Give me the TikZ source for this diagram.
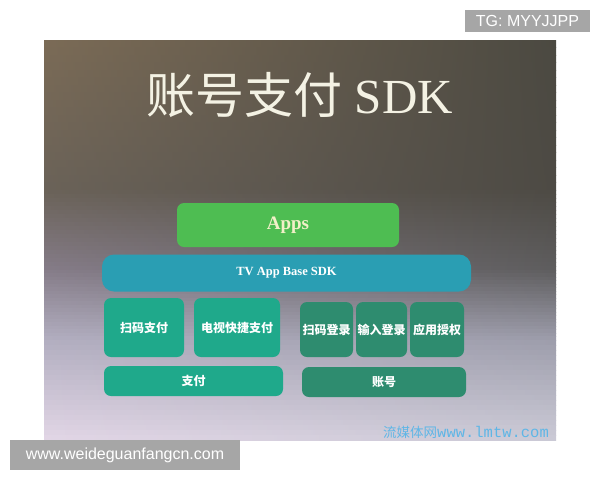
\documentclass[tikz,border=0pt]{standalone}
\usepackage{fontspec}
\setmainfont{Liberation Serif}
\setsansfont{Liberation Sans}
\setmonofont{Liberation Mono}
\newfontfamily\cjk{Noto Sans CJK SC}
% background key colours (left / right edge at several heights)
\definecolor{lA}{HTML}{7B6B56}\definecolor{rA}{HTML}{4B4941}
\definecolor{lB}{HTML}{6A6258}\definecolor{rB}{HTML}{4D4A44}
\definecolor{lC}{HTML}{857C88}\definecolor{rC}{HTML}{5E5D5E}
\definecolor{lD}{HTML}{B2AEC0}\definecolor{rD}{HTML}{9D9DAB}
\definecolor{lE}{HTML}{E2D6E6}\definecolor{rE}{HTML}{CBCAD6}
\definecolor{appsgreen}{HTML}{4EBD52}
\definecolor{appstext}{HTML}{F2F0C8}
\definecolor{tvblue}{HTML}{2A9EB3}
\definecolor{paygreen}{HTML}{1FA98B}
\definecolor{accgreen}{HTML}{2E8C6F}
\definecolor{wmblue}{HTML}{5FB6E6}
\definecolor{tagbg}{HTML}{A6A6A6}
\definecolor{titlecol}{HTML}{F4F2E4}
\newcommand\bgseg[6]{%
  \foreach \k in {0,...,19}{%
    \pgfmathsetmacro\pp{100-5*\k-2.5}%
    \pgfmathsetmacro\ya{#1+(#2-#1)*\k/20}%
    \pgfmathsetmacro\yb{#1+(#2-#1)*(\k+1)/20+0.4}%
    \colorlet{cl}{#3!\pp!#4}\colorlet{cr}{#5!\pp!#6}%
    \shade[left color=cl, right color=cr] (44,\ya) rectangle (556,\yb);
  }}
\tikzset{
  box/.style={rounded corners=7pt, inner sep=0pt, text=white, font=\cjk\bfseries\fontsize{12}{12}\selectfont},
  tag/.style={fill=tagbg, inner sep=0pt, text=white, font=\sffamily\fontsize{16}{16}\selectfont}
}
\begin{document}
\begin{tikzpicture}[x=1pt,y=-1pt]
\useasboundingbox (0,0) rectangle (600,480);
\fill[white] (0,0) rectangle (600,480);
% photo background
\begin{scope}
\clip (44,40) rectangle (556,440);
\bgseg{40}{190}{lA}{lB}{rA}{rB}
\bgseg{190}{270}{lB}{lC}{rB}{rC}
\bgseg{270}{340}{lC}{lD}{rC}{rD}
\bgseg{340}{440}{lD}{lE}{rD}{rE}
\end{scope}
% title
\node[anchor=base, text=titlecol, inner sep=0pt] (title) at (300,113)
  {{\cjk\fontsize{49}{49}\selectfont 账号支付}\hspace{12pt}{\fontsize{49}{49}\selectfont SDK}};
% apps and base sdk
\node[box, fill=appsgreen, minimum width=222pt, minimum height=44pt,
      text=appstext, font=\bfseries\fontsize{19}{19}\selectfont] (apps) at (288,225) {Apps};
\node[box, fill=tvblue, rounded corners=12pt, minimum width=369pt, minimum height=37pt,
      font=\bfseries\fontsize{12.5}{12.5}\selectfont] (tv) at (286.5,273) {TV App Base SDK};
% payment side
\node[box, fill=paygreen, minimum width=80pt, minimum height=59pt] (smzf) at (144,327.5) {扫码支付};
\node[box, fill=paygreen, minimum width=86pt, minimum height=59pt] (dskj) at (237,327.5) {电视快捷支付};
\node[box, fill=paygreen, minimum width=179pt, minimum height=30pt] (zf) at (193.5,381) {支付};
% account side
\node[box, fill=accgreen, minimum width=53pt, minimum height=55pt] (smdl) at (326.5,329.5) {扫码登录};
\node[box, fill=accgreen, minimum width=51pt, minimum height=55pt] (srdl) at (381.5,329.5) {输入登录};
\node[box, fill=accgreen, minimum width=54pt, minimum height=55pt] (yysq) at (437,329.5) {应用授权};
\node[box, fill=accgreen, minimum width=164pt, minimum height=30pt] (zh) at (384,382) {账号};
% watermark
\node[anchor=base west, inner sep=0pt, text=wmblue] (wm) at (383,437)
  {{\cjk\fontsize{13.5}{13.5}\selectfont 流媒体网}{\ttfamily\fontsize{15.5}{15.5}\selectfont www.lmtw.com}};
% tags
\node[tag, minimum width=125pt, minimum height=22pt] (tg) at (527.5,21) {TG: MYYJJPP};
\node[tag, minimum width=230pt, minimum height=30pt] (site) at (125,455) {www.weideguanfangcn.com};
\end{tikzpicture}
\end{document}
